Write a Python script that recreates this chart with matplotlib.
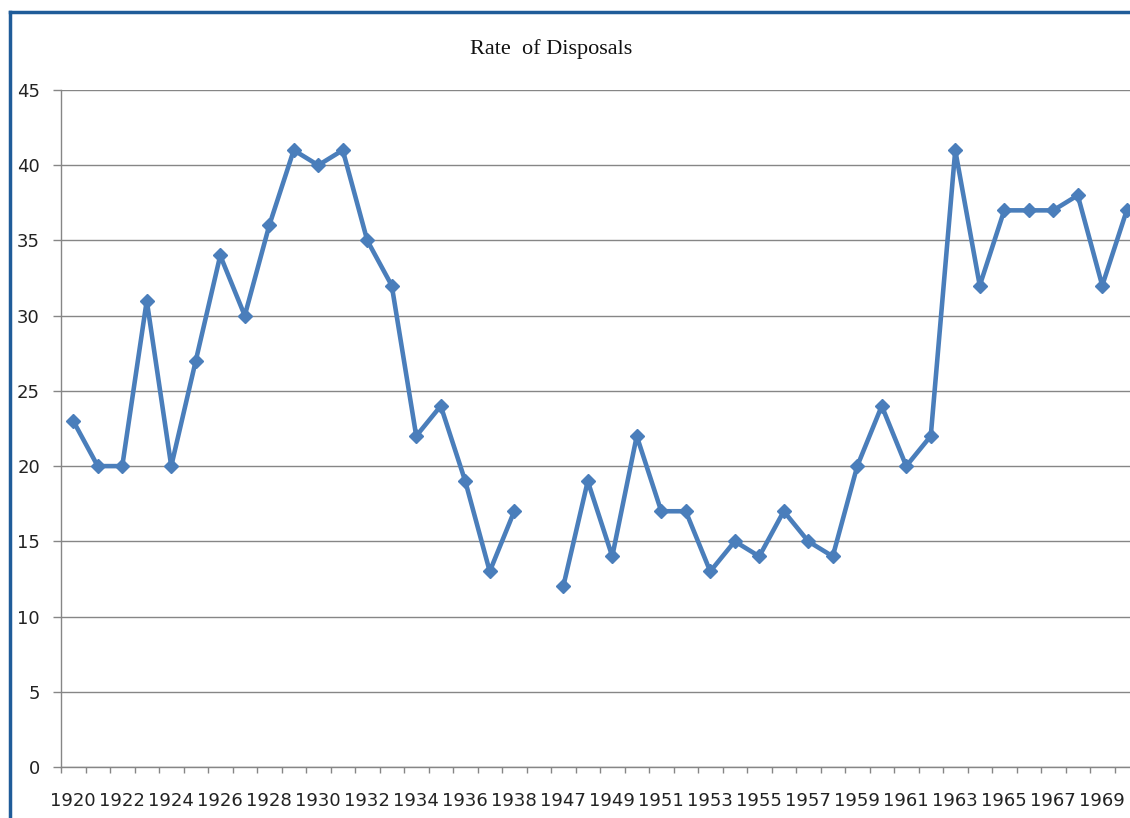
import matplotlib.pyplot as plt
import numpy as np
from matplotlib.lines import Line2D

# categories (one blank slot between 1938 and 1947)
years = [str(y) for y in range(1920, 1939)] + ["1939"] + [str(y) for y in range(1947, 1971)]
rates = [23, 20, 20, 31, 20, 27, 34, 30, 36, 41, 40, 41, 35, 32, 22, 24, 19, 13, 17,
         None,
         12, 19, 14, 22, 17, 17, 13, 15, 14, 17, 15, 14, 20, 24, 20, 22, 41, 32,
         37, 37, 37, 38, 32, 37]
y_ticks = [0, 5, 10, 15, 20, 25, 30, 35, 40, 45]

W, H = 1130, 818
fig = plt.figure(figsize=(W / 100, H / 100), dpi=100)

n = len(years)
step = 24.5
left, bottom, top = 61, 767, 90
right = left + n * step
ax = fig.add_axes([left / W, 1 - bottom / H, (right - left) / W, (bottom - top) / H])

x = np.arange(n)
vals = np.array([np.nan if v is None else v for v in rates], dtype=float)
ax.plot(x, vals, color="#4A7EBB", lw=3.3, marker="D", ms=7.5, mec="#4A7EBB",
        mfc="#4A7EBB", solid_joinstyle="round", clip_on=False, zorder=3)

ax.set_xlim(-0.5, n - 0.5)
ax.set_ylim(0, 45)
ax.set_yticks(y_ticks)
ax.yaxis.grid(True, color="#868686", lw=1)
ax.set_axisbelow(True)

ax.set_xticks(x[::2])
ax.set_xticklabels(years[::2])
ax.set_xticks(np.arange(-0.5, n, 1), minor=True)
ax.tick_params(axis="x", which="major", length=0, pad=18, labelsize=13)
ax.tick_params(axis="x", which="minor", length=4.3, color="#868686", width=1)
ax.tick_params(axis="y", length=5.8, color="#868686", width=1, pad=9.4, labelsize=13)
for lab in ax.get_xticklabels() + ax.get_yticklabels():
    lab.set_fontfamily("DejaVu Sans")
    lab.set_color("#222222")

for s in ["top", "right"]:
    ax.spines[s].set_visible(False)
for s in ["left", "bottom"]:
    ax.spines[s].set_color("#868686")
    ax.spines[s].set_linewidth(1)

fig.text(551 / W, 1 - 49 / H, "Rate  of Disposals", ha="center", va="center",
         fontsize=16, family="Liberation Serif", color="#111111")

# window frame
fig.add_artist(Line2D([10 / W, 10 / W], [0, 1 - 12 / H], color="#1F5C99", lw=2.5,
                      transform=fig.transFigure))
fig.add_artist(Line2D([10 / W, 1], [1 - 12 / H, 1 - 12 / H], color="#1F5C99", lw=2.5,
                      transform=fig.transFigure))

fig.savefig("out.png", dpi=100)
